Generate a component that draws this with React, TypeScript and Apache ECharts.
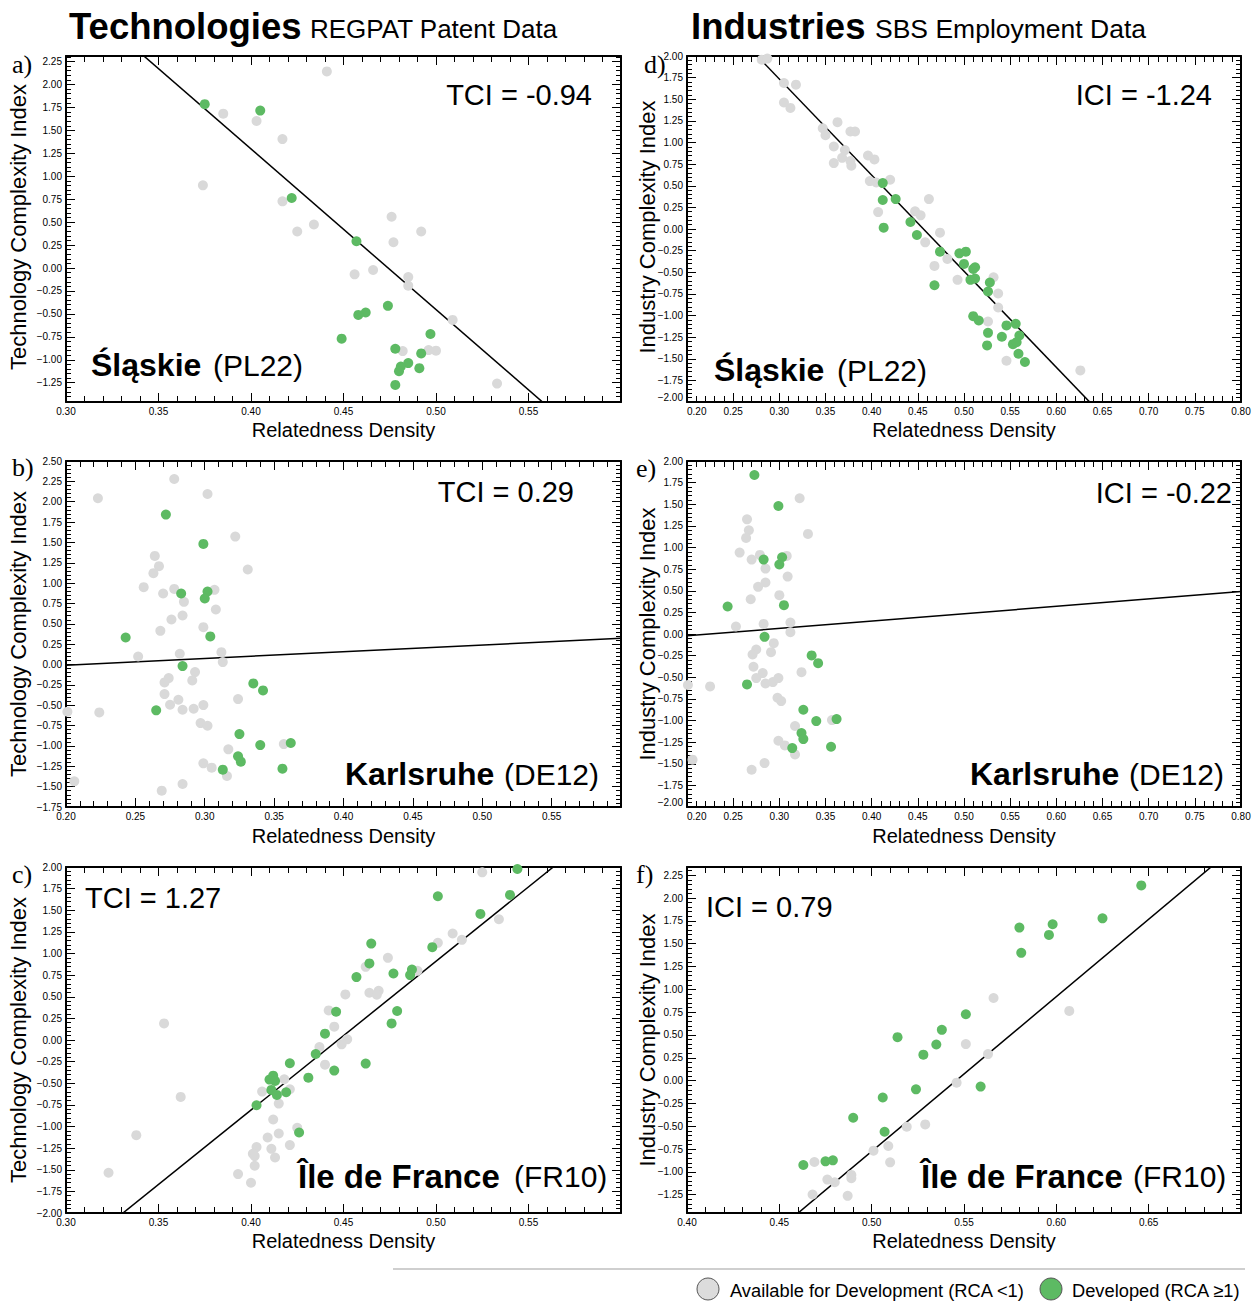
import React, { useEffect, useRef } from 'react';
import * as echarts from 'echarts';

const FONT = '"Liberation Sans", Helvetica, Arial, sans-serif';
const SERIF = '"Liberation Serif", "Times New Roman", serif';
const GREY = '#d9d9d9';
const GREEN = '#5dba63';

type Pt = [number, number];

// ---------- a) Technologies, Śląskie ----------
const slaskieTechX = [0.30, 0.60];
const slaskieTechY = [-1.46, 2.31];
const slaskieTechXLabels = [0.30, 0.35, 0.40, 0.45, 0.50, 0.55];
const slaskieTechYLabels = [-1.25, -1.0, -0.75, -0.5, -0.25, 0, 0.25, 0.5, 0.75, 1.0, 1.25, 1.5, 1.75, 2.0, 2.25];
const slaskieTechAvailable: Pt[] = [
  [0.441, 2.142], [0.385, 1.682], [0.403, 1.602], [0.417, 1.405], [0.374, 0.901], [0.417, 0.726],
  [0.425, 0.398], [0.434, 0.474], [0.476, 0.558], [0.492, 0.398], [0.477, 0.281], [0.466, -0.022],
  [0.456, -0.069], [0.485, -0.099], [0.485, -0.193], [0.509, -0.566], [0.482, -0.905], [0.496, -0.894],
  [0.500, -0.901], [0.533, -1.259],
];
const slaskieTechDeveloped: Pt[] = [
  [0.375, 1.785], [0.405, 1.715], [0.422, 0.763], [0.457, 0.292], [0.474, -0.412], [0.462, -0.485],
  [0.458, -0.511], [0.449, -0.770], [0.497, -0.719], [0.478, -0.880], [0.492, -0.931], [0.485, -1.036],
  [0.481, -1.073], [0.480, -1.124], [0.491, -1.091], [0.478, -1.274],
];
const slaskieTechFit = [8.297, -17.5]; // intercept, slope

// ---------- d) Industries, Śląskie ----------
const slaskieIndX = [0.20, 0.80];
const slaskieIndY = [-2.0, 2.0];
const slaskieIndXLabels = [0.20, 0.25, 0.30, 0.35, 0.40, 0.45, 0.50, 0.55, 0.60, 0.65, 0.70, 0.75, 0.80];
const slaskieIndYLabels = [-2.0, -1.75, -1.5, -1.25, -1.0, -0.75, -0.5, -0.25, 0, 0.25, 0.5, 0.75, 1.0, 1.25, 1.5, 1.75, 2.0];
const slaskieIndAvailable: Pt[] = [
  [0.281, 1.958], [0.287, 1.970], [0.305, 1.688], [0.318, 1.669], [0.305, 1.462], [0.312, 1.400],
  [0.363, 1.235], [0.347, 1.165], [0.350, 1.085], [0.377, 1.127], [0.382, 1.127], [0.359, 0.954],
  [0.371, 0.912], [0.368, 0.823], [0.377, 0.785], [0.378, 0.731], [0.359, 0.762], [0.396, 0.850],
  [0.403, 0.804], [0.398, 0.554], [0.405, 0.538], [0.420, 0.569], [0.462, 0.346], [0.407, 0.196],
  [0.447, 0.204], [0.453, 0.158], [0.474, -0.042], [0.458, -0.154], [0.482, -0.346], [0.468, -0.427],
  [0.493, -0.588], [0.532, -0.558], [0.537, -0.746], [0.537, -0.908], [0.526, -1.069], [0.546, -1.523],
  [0.626, -1.635],
];
const slaskieIndDeveloped: Pt[] = [
  [0.412, 0.531], [0.412, 0.335], [0.426, 0.346], [0.413, 0.015], [0.442, 0.081], [0.449, -0.069],
  [0.474, -0.262], [0.495, -0.281], [0.502, -0.262], [0.500, -0.404], [0.510, -0.462], [0.512, -0.442],
  [0.507, -0.588], [0.512, -0.573], [0.528, -0.619], [0.526, -0.723], [0.468, -0.650], [0.510, -1.008],
  [0.516, -1.058], [0.526, -1.200], [0.525, -1.346], [0.541, -1.246], [0.546, -1.115], [0.556, -1.096],
  [0.560, -1.231], [0.553, -1.331], [0.557, -1.308], [0.559, -1.442], [0.566, -1.538],
];
const slaskieIndFit = [5.067, -11.11];

// ---------- b) Technologies, Karlsruhe ----------
const karlsruheTechX = [0.20, 0.60];
const karlsruheTechY = [-1.75, 2.5];
const karlsruheTechXLabels = [0.20, 0.25, 0.30, 0.35, 0.40, 0.45, 0.50, 0.55];
const karlsruheTechYLabels = [-1.75, -1.5, -1.25, -1.0, -0.75, -0.5, -0.25, 0, 0.25, 0.5, 0.75, 1.0, 1.25, 1.5, 1.75, 2.0, 2.25, 2.5];
const karlsruheTechAvailable: Pt[] = [
  [0.223, 2.042], [0.278, 2.279], [0.302, 2.095], [0.322, 1.572], [0.331, 1.167], [0.264, 1.334],
  [0.267, 1.208], [0.263, 1.122], [0.256, 0.950], [0.270, 0.872], [0.278, 0.929], [0.307, 0.917],
  [0.285, 0.770], [0.308, 0.676], [0.276, 0.553], [0.284, 0.602], [0.299, 0.459], [0.268, 0.414],
  [0.252, 0.099], [0.282, 0.132], [0.312, 0.152], [0.313, 0.030], [0.293, -0.093], [0.274, -0.167],
  [0.271, -0.220], [0.291, -0.195], [0.271, -0.363], [0.275, -0.494], [0.281, -0.433], [0.284, -0.555],
  [0.292, -0.543], [0.299, -0.498], [0.324, -0.424], [0.224, -0.588], [0.297, -0.719], [0.302, -0.752],
  [0.317, -1.042], [0.357, -0.977], [0.299, -1.214], [0.305, -1.267], [0.316, -1.369], [0.206, -1.435],
  [0.284, -1.467], [0.269, -1.549], [0.201, -0.580],
];
const karlsruheTechDeveloped: Pt[] = [
  [0.272, 1.842], [0.299, 1.482], [0.283, 0.872], [0.302, 0.897], [0.300, 0.811], [0.243, 0.332],
  [0.304, 0.345], [0.284, -0.019], [0.335, -0.232], [0.342, -0.318], [0.265, -0.563], [0.325, -0.854],
  [0.340, -0.989], [0.362, -0.964], [0.324, -1.128], [0.326, -1.193], [0.313, -1.291], [0.356, -1.279],
];
const karlsruheTechFit = [-0.175, 0.83];

// ---------- e) Industries, Karlsruhe ----------
const karlsruheIndX = [0.20, 0.80];
const karlsruheIndY = [-2.0, 2.0];
const karlsruheIndXLabels = [0.20, 0.25, 0.30, 0.35, 0.40, 0.45, 0.50, 0.55, 0.60, 0.65, 0.70, 0.75, 0.80];
const karlsruheIndYLabels = [-2.0, -1.75, -1.5, -1.25, -1.0, -0.75, -0.5, -0.25, 0, 0.25, 0.5, 0.75, 1.0, 1.25, 1.5, 1.75, 2.0];
const karlsruheIndAvailable: Pt[] = [
  [0.322, 1.569], [0.331, 1.157], [0.265, 1.326], [0.267, 1.199], [0.264, 1.111], [0.257, 0.941],
  [0.270, 0.860], [0.279, 0.914], [0.308, 0.903], [0.285, 0.756], [0.309, 0.664], [0.277, 0.545],
  [0.285, 0.595], [0.300, 0.449], [0.269, 0.402], [0.253, 0.087], [0.283, 0.117], [0.312, 0.133],
  [0.312, 0.021], [0.294, -0.106], [0.275, -0.179], [0.271, -0.237], [0.291, -0.210], [0.272, -0.379],
  [0.282, -0.452], [0.324, -0.441], [0.275, -0.510], [0.285, -0.572], [0.293, -0.556], [0.299, -0.510],
  [0.225, -0.606], [0.298, -0.737], [0.302, -0.776], [0.317, -1.064], [0.357, -0.995], [0.299, -1.234],
  [0.306, -1.288], [0.317, -1.392], [0.206, -1.453], [0.284, -1.492], [0.270, -1.569], [0.201, -0.590],
];
const karlsruheIndDeveloped: Pt[] = [
  [0.273, 1.838], [0.299, 1.480], [0.283, 0.860], [0.303, 0.887], [0.300, 0.803], [0.244, 0.318],
  [0.305, 0.333], [0.284, -0.033], [0.335, -0.248], [0.342, -0.337], [0.265, -0.583], [0.326, -0.876],
  [0.340, -1.007], [0.362, -0.984], [0.324, -1.145], [0.326, -1.215], [0.314, -1.319], [0.356, -1.303],
];
const karlsruheIndFit = [-0.192, 0.853];

// ---------- c) Technologies, Île de France ----------
const ileTechX = [0.30, 0.60];
const ileTechY = [-2.0, 2.0];
const ileTechXLabels = [0.30, 0.35, 0.40, 0.45, 0.50, 0.55];
const ileTechYLabels = [-2.0, -1.75, -1.5, -1.25, -1.0, -0.75, -0.5, -0.25, 0, 0.25, 0.5, 0.75, 1.0, 1.25, 1.5, 1.75, 2.0];
const ileTechAvailable: Pt[] = [
  [0.525, 1.938], [0.534, 1.396], [0.509, 1.231], [0.514, 1.158], [0.501, 1.123], [0.474, 0.950],
  [0.462, 0.846], [0.490, 0.800], [0.469, 0.569], [0.464, 0.546], [0.468, 0.523], [0.451, 0.527],
  [0.442, 0.342], [0.445, 0.154], [0.452, 0.008], [0.449, -0.050], [0.437, -0.081], [0.440, -0.285],
  [0.353, 0.192], [0.362, -0.658], [0.418, -0.454], [0.421, -0.569], [0.406, -0.596], [0.415, -0.735],
  [0.412, -0.919], [0.425, -1.015], [0.415, -1.081], [0.409, -1.127], [0.421, -1.215], [0.403, -1.238],
  [0.411, -1.258], [0.401, -1.315], [0.402, -1.342], [0.413, -1.358], [0.402, -1.454], [0.338, -1.100],
  [0.323, -1.535], [0.393, -1.550], [0.400, -1.650],
];
const ileTechDeveloped: Pt[] = [
  [0.544, 1.977], [0.501, 1.662], [0.540, 1.677], [0.524, 1.458], [0.498, 1.073], [0.465, 1.115],
  [0.464, 0.885], [0.457, 0.727], [0.477, 0.769], [0.487, 0.815], [0.486, 0.750], [0.446, 0.327],
  [0.479, 0.335], [0.476, 0.192], [0.440, 0.073], [0.435, -0.162], [0.421, -0.269], [0.445, -0.354],
  [0.462, -0.273], [0.431, -0.435], [0.410, -0.458], [0.412, -0.412], [0.413, -0.473], [0.411, -0.577],
  [0.419, -0.604], [0.414, -0.635], [0.403, -0.754], [0.426, -1.069],
];
const ileTechFit = [-7.69, 17.2];

// ---------- f) Industries, Île de France ----------
const ileIndX = [0.40, 0.70];
const ileIndY = [-1.45, 2.34];
const ileIndXLabels = [0.40, 0.45, 0.50, 0.55, 0.60, 0.65];
const ileIndYLabels = [-1.25, -1.0, -0.75, -0.5, -0.25, 0, 0.25, 0.5, 0.75, 1.0, 1.25, 1.5, 1.75, 2.0, 2.25];
const ileIndAvailable: Pt[] = [
  [0.566, 0.905], [0.607, 0.764], [0.551, 0.400], [0.563, 0.291], [0.546, -0.022], [0.529, -0.480],
  [0.519, -0.505], [0.501, -0.767], [0.509, -0.716], [0.510, -0.895], [0.469, -0.891], [0.476, -1.084],
  [0.480, -1.113], [0.489, -1.033], [0.489, -1.069], [0.468, -1.247], [0.487, -1.262],
];
const ileIndDeveloped: Pt[] = [
  [0.646, 2.138], [0.625, 1.778], [0.580, 1.676], [0.598, 1.713], [0.596, 1.596], [0.581, 1.400],
  [0.551, 0.727], [0.538, 0.556], [0.514, 0.476], [0.535, 0.396], [0.528, 0.284], [0.524, -0.095],
  [0.559, -0.065], [0.506, -0.185], [0.490, -0.407], [0.507, -0.560], [0.463, -0.924], [0.475, -0.884],
  [0.479, -0.873],
];
const ileIndFit = [-9.25, 16.95];

const panels = [
  { grid: { left: 66, top: 56, width: 555, height: 346 }, x: slaskieTechX, y: slaskieTechY, xl: slaskieTechXLabels, yl: slaskieTechYLabels, av: slaskieTechAvailable, dev: slaskieTechDeveloped, fit: slaskieTechFit, corner: false },
  { grid: { left: 687, top: 56, width: 554, height: 346 }, x: slaskieIndX, y: slaskieIndY, xl: slaskieIndXLabels, yl: slaskieIndYLabels, av: slaskieIndAvailable, dev: slaskieIndDeveloped, fit: slaskieIndFit, corner: true },
  { grid: { left: 66, top: 461, width: 555, height: 346 }, x: karlsruheTechX, y: karlsruheTechY, xl: karlsruheTechXLabels, yl: karlsruheTechYLabels, av: karlsruheTechAvailable, dev: karlsruheTechDeveloped, fit: karlsruheTechFit, corner: false },
  { grid: { left: 687, top: 461, width: 554, height: 346 }, x: karlsruheIndX, y: karlsruheIndY, xl: karlsruheIndXLabels, yl: karlsruheIndYLabels, av: karlsruheIndAvailable, dev: karlsruheIndDeveloped, fit: karlsruheIndFit, corner: true },
  { grid: { left: 66, top: 867, width: 555, height: 346 }, x: ileTechX, y: ileTechY, xl: ileTechXLabels, yl: ileTechYLabels, av: ileTechAvailable, dev: ileTechDeveloped, fit: ileTechFit, corner: false },
  { grid: { left: 687, top: 867, width: 554, height: 346 }, x: ileIndX, y: ileIndY, xl: ileIndXLabels, yl: ileIndYLabels, av: ileIndAvailable, dev: ileIndDeveloped, fit: ileIndFit, corner: false },
];

const fmt = (v: number) => (v < -1e-9 ? '\u2212' : '') + Math.abs(v).toFixed(2);

function steps(min: number, max: number, step: number): number[] {
  const out: number[] = [];
  const k0 = Math.ceil(min / step - 1e-9);
  const k1 = Math.floor(max / step + 1e-9);
  for (let k = k0; k <= k1; k++) out.push(+(k * step).toFixed(4));
  return out;
}

function makeAxis(gridIndex: number, position: string, range: number[], tickVals: number[], tickLen: number, showLine: boolean, labelVals: number[] | null, extraLabel: any = {}) {
  return {
    type: 'value',
    gridIndex,
    position,
    min: range[0],
    max: range[1],
    axisLine: { show: showLine, onZero: false, lineStyle: { color: '#000', width: 2 } },
    axisTick: { show: true, inside: true, length: tickLen, customValues: tickVals, lineStyle: { color: '#000', width: 1 } },
    axisLabel: labelVals
      ? { show: true, customValues: labelVals, formatter: fmt, fontSize: 10, color: '#000', fontFamily: FONT, margin: 4, ...extraLabel }
      : { show: false },
    splitLine: { show: false },
    minorTick: { show: false },
    minorSplitLine: { show: false },
  };
}

function text(x: number, y: number, t: string, font: string, align = 'left', vAlign = 'middle', rotation = 0) {
  return {
    type: 'text', x, y, rotation, silent: true, z: 100,
    style: { text: t, font, fill: '#000', textAlign: align, textVerticalAlign: vAlign, align, verticalAlign: vAlign },
  };
}

function buildOption() {
  const grid: any[] = [];
  const xAxis: any[] = [];
  const yAxis: any[] = [];
  const series: any[] = [];
  panels.forEach((p, i) => {
    grid.push({ ...p.grid, containLabel: false });
    const xMinor = steps(p.x[0], p.x[1], 0.01);
    const yMinor = steps(p.y[0], p.y[1], 0.05);
    xAxis.push(makeAxis(i, 'bottom', p.x, p.xl, 9, true, p.xl, p.corner ? { alignMinLabel: 'left' } : {}));
    xAxis.push(makeAxis(i, 'bottom', p.x, xMinor, 6, false, null));
    xAxis.push(makeAxis(i, 'top', p.x, p.xl, 9, true, null));
    xAxis.push(makeAxis(i, 'top', p.x, xMinor, 6, false, null));
    yAxis.push(makeAxis(i, 'left', p.y, p.yl, 9, true, p.yl, p.corner ? { verticalAlignMinLabel: 'bottom' } : {}));
    yAxis.push(makeAxis(i, 'left', p.y, yMinor, 5, false, null));
    yAxis.push(makeAxis(i, 'right', p.y, p.yl, 9, true, null));
    yAxis.push(makeAxis(i, 'right', p.y, yMinor, 5, false, null));
    const ai = i * 4;
    const [a, b] = p.fit;
    series.push({
      type: 'line', xAxisIndex: ai, yAxisIndex: ai, symbol: 'none', silent: true, clip: true, z: 1,
      lineStyle: { color: '#000', width: 1.5 },
      data: [[p.x[0], a + b * p.x[0]], [p.x[1], a + b * p.x[1]]],
    });
    series.push({
      type: 'scatter', xAxisIndex: ai, yAxisIndex: ai, symbol: 'circle', symbolSize: 10, z: 2,
      itemStyle: { color: GREY, opacity: 1 }, data: p.av,
    });
    series.push({
      type: 'scatter', xAxisIndex: ai, yAxisIndex: ai, symbol: 'circle', symbolSize: 10, z: 3,
      itemStyle: { color: GREEN, opacity: 1 }, data: p.dev,
    });
  });

  const bold32 = `bold 32px ${FONT}`;
  const bold33 = `bold 33px ${FONT}`;
  const reg30 = `30px ${FONT}`;
  const reg29 = `29px ${FONT}`;
  const axisName = `20px ${FONT}`;
  const yName = `22px ${FONT}`;
  const letter = `26px ${SERIF}`;

  const elements: any[] = [
    text(69, 26, 'Technologies', `bold 36.5px ${FONT}`),
    text(310, 29, 'REGPAT Patent Data', `26px ${FONT}`),
    text(691, 26, 'Industries', `bold 36.5px ${FONT}`),
    text(875, 29, 'SBS Employment Data', `26.5px ${FONT}`),

    text(12, 64, 'a)', letter), text(12, 467, 'b)', letter), text(12, 874, 'c)', letter),
    text(644, 64, 'd)', letter), text(636, 468, 'e)', letter), text(636, 874, 'f)', letter),

    text(592, 95, 'TCI = -0.94', reg29, 'right'),
    text(1212, 95, 'ICI = -1.24', reg29, 'right'),
    text(574, 492, 'TCI = 0.29', reg29, 'right'),
    text(1232, 493, 'ICI = -0.22', reg29, 'right'),
    text(85, 898, 'TCI = 1.27', reg29),
    text(706, 907, 'ICI = 0.79', reg29),

    text(91, 365, 'Śląskie', bold32), text(213, 365, '(PL22)', reg30),
    text(714, 370, 'Śląskie', bold32), text(837, 370, '(PL22)', reg30),
    text(345, 774, 'Karlsruhe', bold32), text(504, 774, '(DE12)', reg30),
    text(970, 774, 'Karlsruhe', bold32), text(1129, 774, '(DE12)', reg30),
    text(298, 1176, 'Île de France', bold33), text(514, 1176, '(FR10)', reg30),
    text(921, 1176, 'Île de France', bold33), text(1133, 1176, '(FR10)', reg30),
  ];
  [430, 836, 1241].forEach((y) => {
    elements.push(text(343.5, y, 'Relatedness Density', axisName, 'center'));
    elements.push(text(964, y, 'Relatedness Density', axisName, 'center'));
  });
  [227, 634, 1040].forEach((y) => {
    elements.push(text(18, y, 'Technology Complexity Index', yName, 'center', 'middle', Math.PI / 2));
    elements.push(text(647, y, 'Industry Complexity Index', yName, 'center', 'middle', Math.PI / 2));
  });
  // legend
  elements.push({ type: 'line', silent: true, shape: { x1: 393, y1: 1269, x2: 1245, y2: 1269 }, style: { stroke: '#cfcfcf', lineWidth: 2 } });
  elements.push({ type: 'circle', silent: true, shape: { cx: 708, cy: 1289, r: 11 }, style: { fill: '#dcdcdc', stroke: '#555', lineWidth: 1 } });
  elements.push(text(730, 1290, 'Available for Development (RCA <1)', `18.3px ${FONT}`));
  elements.push({ type: 'circle', silent: true, shape: { cx: 1051, cy: 1289, r: 11 }, style: { fill: GREEN, stroke: '#555', lineWidth: 1 } });
  elements.push(text(1072, 1290, 'Developed (RCA \u22651)', `18.3px ${FONT}`));

  return {
    animation: false,
    backgroundColor: '#fff',
    grid, xAxis, yAxis, series,
    graphic: { elements },
  };
}

export default function App() {
  const ref = useRef<HTMLDivElement>(null);
  useEffect(() => {
    if (!ref.current) return;
    const chart = echarts.init(ref.current, undefined, { renderer: 'svg' });
    chart.setOption(buildOption() as any);
    return () => chart.dispose();
  }, []);
  return (
    <div
      ref={ref}
      style={{ position: 'absolute', left: 0, top: 0, width: 1255, height: 1302, background: '#fff' }}
    />
  );
}
